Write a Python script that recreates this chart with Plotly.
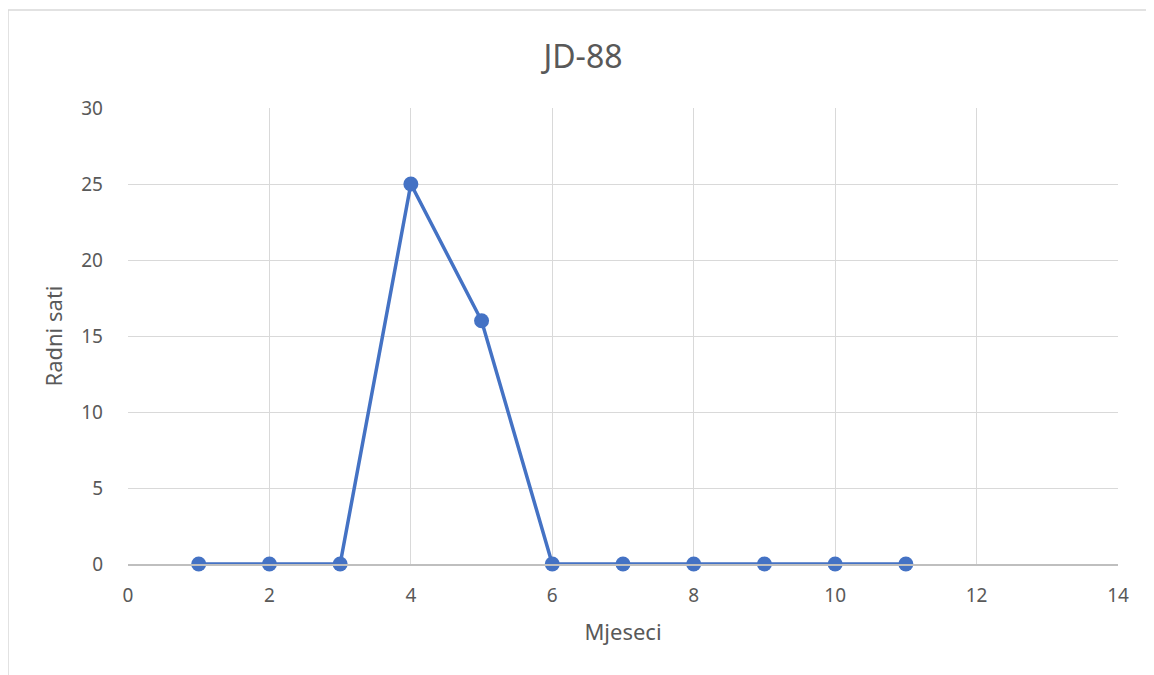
import plotly.graph_objects as go

months = [1, 2, 3, 4, 5, 6, 7, 8, 9, 10, 11]
hours = [0, 0, 0, 25, 16, 0, 0, 0, 0, 0, 0]
chart_title = "JD-88"
x_title = "Mjeseci"
y_title = "Radni sati"

# page body has an 8px margin, so the figure starts at (8, 8)
OFF = 8
W, H = 1154 - OFF, 675 - OFF
L, R, T, B = 128 - OFF, 36, 108 - OFF, 111
pw, ph = W - L - R, H - T - B

font = "Noto Sans"
txt = "#595959"

fig = go.Figure()
fig.add_trace(go.Scatter(
    x=months, y=hours, mode="lines+markers",
    line=dict(color="#4472C4", width=3.5),
    marker=dict(color="#4472C4", size=15, line=dict(width=0)),
    cliponaxis=False,
    hoverinfo="x+y",
))

def px_x(p):
    return (p - OFF - L) / pw

def px_y(p):
    return (H - B - (p - OFF)) / ph

fig.update_layout(
    width=W, height=H,
    margin=dict(l=L, r=R, t=T, b=B),
    paper_bgcolor="white", plot_bgcolor="white",
    showlegend=False,
    font=dict(family=font, color=txt, size=19),
    title=dict(text=chart_title, x=(583 - OFF) / W, xanchor="center", y=1 - (57 - OFF) / H, yanchor="middle",
               font=dict(size=32, color=txt, family=font)),
    xaxis=dict(range=[0, 14], dtick=2, tick0=0, showgrid=True, gridcolor="#d9d9d9", gridwidth=1.3,
               showline=True, linecolor="#bfbfbf", linewidth=1.5, zeroline=False,
               ticks="", ticklabelstandoff=13,
               title=dict(text=x_title, font=dict(size=22, color=txt), standoff=18)),
    yaxis=dict(range=[0, 30], dtick=5, tick0=0, showgrid=True, gridcolor="#d9d9d9", gridwidth=1.3,
               showline=False, zeroline=False, ticks="", ticklabelstandoff=24,
               title=dict(text=y_title, font=dict(size=22, color=txt), standoff=12)),
    shapes=[dict(type="rect", xref="paper", yref="paper",
                 x0=px_x(8), x1=px_x(1170), y0=px_y(690), y1=px_y(10),
                 line=dict(color="#d9d9d9", width=1.5), fillcolor="rgba(0,0,0,0)", layer="below")],
)

fig.write_html("out.html")
